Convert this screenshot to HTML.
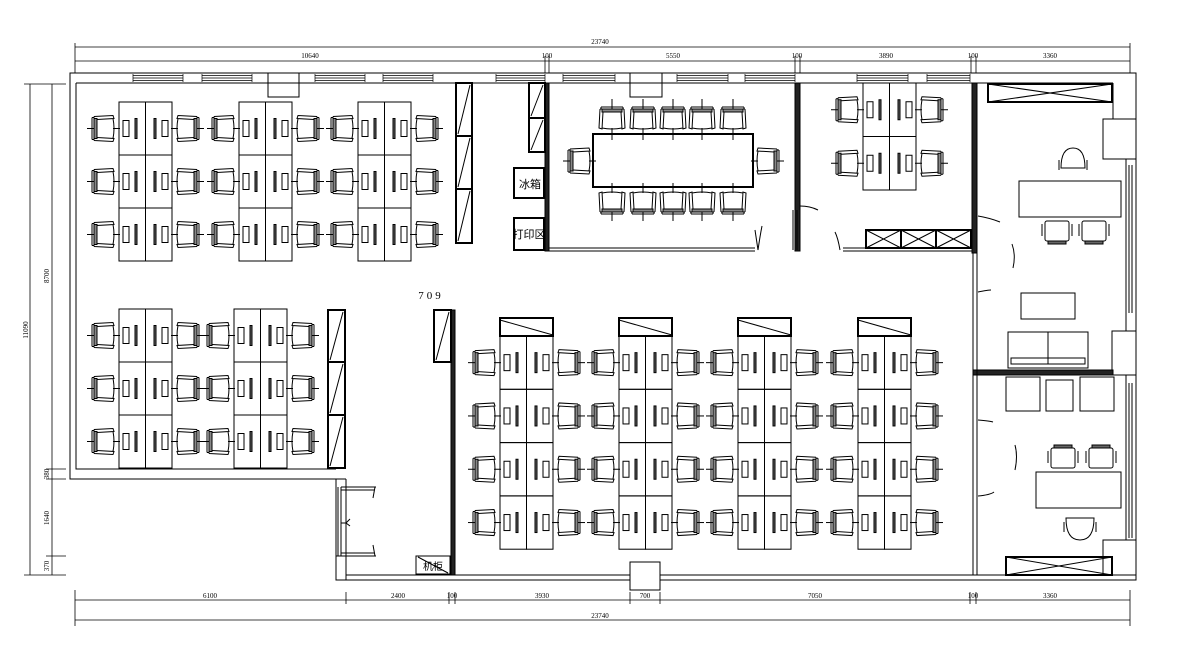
<!DOCTYPE html>
<html><head><meta charset="utf-8"><style>
html,body{margin:0;padding:0;background:#fff;width:1189px;height:653px;overflow:hidden}
svg{display:block}
text{font-family:"Liberation Serif","Noto Sans CJK SC",serif;fill:#000}
</style></head><body>
<svg id="s" width="1189" height="653" viewBox="0 0 1189 653" xmlns="http://www.w3.org/2000/svg" fill="none" stroke="#000" stroke-width="1">
<!-- dimensions top -->
<g stroke-width="0.8">
<line x1="75" y1="47" x2="1130" y2="47"/>
<line x1="75" y1="61" x2="1130" y2="61"/>
<line x1="75" y1="43" x2="75" y2="73"/><line x1="1130" y1="43" x2="1130" y2="73"/>
<line x1="545" y1="56" x2="545" y2="73"/><line x1="549" y1="56" x2="549" y2="73"/>
<line x1="795" y1="56" x2="795" y2="73"/><line x1="800" y1="56" x2="800" y2="73"/>
<line x1="971" y1="56" x2="971" y2="73"/><line x1="976" y1="56" x2="976" y2="73"/>
<line x1="75" y1="600" x2="1130" y2="600"/>
<line x1="75" y1="620" x2="1130" y2="620"/>
<line x1="75" y1="590" x2="75" y2="626"/><line x1="1130" y1="590" x2="1130" y2="626"/>
<line x1="346" y1="592" x2="346" y2="604"/>
<line x1="449" y1="592" x2="449" y2="604"/><line x1="455" y1="592" x2="455" y2="604"/>
<line x1="630" y1="592" x2="630" y2="604"/><line x1="660" y1="592" x2="660" y2="604"/>
<line x1="970" y1="592" x2="970" y2="604"/><line x1="976" y1="592" x2="976" y2="604"/>
<line x1="30" y1="84" x2="30" y2="575"/>
<line x1="52" y1="84" x2="52" y2="575"/>
<line x1="24" y1="84" x2="66" y2="84"/><line x1="24" y1="575" x2="66" y2="575"/>
<line x1="46" y1="469" x2="66" y2="469"/><line x1="46" y1="479" x2="66" y2="479"/><line x1="46" y1="556" x2="66" y2="556"/>
</g>
<g stroke="none" font-size="7">
<text x="600" y="44" text-anchor="middle">23740</text>
<text x="310" y="58" text-anchor="middle">10640</text>
<text x="547" y="58" text-anchor="middle">100</text>
<text x="673" y="58" text-anchor="middle">5550</text>
<text x="797" y="58" text-anchor="middle">100</text>
<text x="886" y="58" text-anchor="middle">3890</text>
<text x="973" y="58" text-anchor="middle">100</text>
<text x="1050" y="58" text-anchor="middle">3360</text>
<text x="210" y="598" text-anchor="middle">6100</text>
<text x="398" y="598" text-anchor="middle">2400</text>
<text x="452" y="598" text-anchor="middle">100</text>
<text x="542" y="598" text-anchor="middle">3930</text>
<text x="645" y="598" text-anchor="middle">700</text>
<text x="815" y="598" text-anchor="middle">7050</text>
<text x="973" y="598" text-anchor="middle">100</text>
<text x="1050" y="598" text-anchor="middle">3360</text>
<text x="600" y="618" text-anchor="middle">23740</text>
<text transform="translate(28,330) rotate(-90)" text-anchor="middle">11090</text>
<text transform="translate(49,276) rotate(-90)" text-anchor="middle">8700</text>
<text transform="translate(49,474) rotate(-90)" text-anchor="middle">380</text>
<text transform="translate(49,518) rotate(-90)" text-anchor="middle">1640</text>
<text transform="translate(49,566) rotate(-90)" text-anchor="middle">370</text>
</g>
<path d="M70 73 H1136 V580 H336 V479 H70 Z"/>
<path d="M76 83 H1113 M76 83 V469 H336 M346 479 V575 H1113"/>
<line x1="336" y1="479" x2="346" y2="479"/>
<rect x="268" y="73" width="31" height="24"/>
<rect x="630" y="73" width="32" height="24"/>
<rect x="630" y="562" width="30" height="28" fill="#fff"/>
<g id="win" stroke-width="0.7"></g>
<line x1="1113" y1="83" x2="1113" y2="119"/>
<rect x="1103" y="119" width="33" height="40"/>
<rect x="1126" y="159" width="10" height="172"/><line x1="1129" y1="165" x2="1129" y2="313"/><line x1="1132" y1="165" x2="1132" y2="313"/>
<rect x="1112" y="331" width="24" height="44"/>
<rect x="1126" y="375" width="10" height="165"/><line x1="1129" y1="383" x2="1129" y2="538"/><line x1="1132" y1="383" x2="1132" y2="538"/>
<rect x="1103" y="540" width="33" height="35"/>
<g fill="#222" stroke="#000">
<rect x="545" y="83" width="4" height="168"/>
<rect x="795" y="83" width="5" height="168"/>
<rect x="972" y="83" width="5" height="170"/>
<rect x="451" y="310" width="4" height="265"/>
<rect x="973" y="370" width="140" height="5"/>
</g>
<path d="M549 248 H755 M549 251 H755 M843 248 H972 M843 251 H972"/>
<line x1="755" y1="230" x2="758" y2="250" /><path d="M758 250 Q760 236 762 226"/>
<path d="M793 210 V250 M797 210 V250"/><path d="M800 206 Q810 206 818 210"/>
<path d="M840 250 Q838 238 835 232"/>
<path d="M973 253 V575 M977 253 V575"/>
<path d="M978 216 Q990 218 1000 222 M1012 244 Q1016 255 1013 268 M978 292 Q988 290 991 290 M978 420 Q990 421 993 422 M1015 445 Q1018 456 1015 470 M978 496 Q990 495 994 492"/>
<path d="M338 487 V556 M341 487 V556 M341 487 H376 M341 556 H376 M341 490 H374 M341 553 H374"/>
<path d="M375 487 L373 498 M375 556 L373 545 M341 523 H346 L350 519 M346 523 L350 526"/>
<rect x="336" y="556" width="10" height="24"/>
<g id="g"></g>
<g stroke="none" font-size="11">
<text x="530" y="188" text-anchor="middle" font-family="Liberation Sans,Noto Sans CJK SC,sans-serif">冰箱</text>
<text x="529" y="238" text-anchor="middle" font-family="Liberation Sans,Noto Sans CJK SC,sans-serif">打印区</text>
<text x="433" y="570" text-anchor="middle" font-size="10" fill="#555" font-family="Liberation Sans,Noto Sans CJK SC,sans-serif">机柜</text>
<text x="431" y="299" text-anchor="middle" font-size="11" letter-spacing="3" font-family="Liberation Sans,sans-serif">709</text>
</g>
</svg>
<script>
var g=document.getElementById('g'),out='';
function r(x,y,w,h,e){out+='<rect x="'+x+'" y="'+y+'" width="'+w+'" height="'+h+'" '+(e||'')+'/>';}
function l(a,b,c,d,e){out+='<line x1="'+a+'" y1="'+b+'" x2="'+c+'" y2="'+d+'" '+(e||'')+'/>';}
function chair(cx,cy,rot){
 out+='<g transform="translate('+cx+','+cy+') rotate('+rot+')">'+
 '<path d="M-10 -12 L9 -13 L10 -10 L-7 -9 M-10 12 L9 13 L10 10 L-7 9 M-10 -12 V12 M-12 -11 V11 M-12 -11 H-10 M-12 11 H-10 M9 -10 Q11 0 9 10"/>'+
 '<rect x="-10" y="-10" width="3" height="20" fill="#888"/>'+
 '<line x1="-17" y1="0" x2="-10" y2="0"/><line x1="9" y1="0" x2="16" y2="0"/></g>';
}
function desk(x,y,rows,h){
 for(var i=0;i<rows;i++){var yy=y+i*h;
  r(x,yy,26.5,h);r(x+26.5,yy,26.5,h);
  var c=yy+h/2;
  r(x+4,c-8,6,16);r(x+16,c-10,2,20,'fill="#666"');
  r(x+35,c-10,2,20,'fill="#666"');r(x+43,c-8,6,16);
  chair(x-15,c,0);chair(x+68,c,180);
 }
}
var ws=[[133,183],[202,252],[315,365],[383,433],[496,545],[563,615],[677,728],[745,795],[857,908],[927,970]];
var wo='';ws.forEach(function(w){wo+='<path d="M'+w[0]+' 74 V82 M'+w[1]+' 74 V82 M'+w[0]+' 75.5 H'+w[1]+' M'+w[0]+' 78 H'+w[1]+' M'+w[0]+' 80.5 H'+w[1]+'"/>';});
document.getElementById('win').innerHTML=wo;
[119,239,358].forEach(function(x){desk(x,102,3,53);});
[119,234].forEach(function(x){desk(x,309,3,53);});
[500,619,738,858].forEach(function(x){r(x,318,53,18,'stroke-width="2"');l(x,320,x+53,335);desk(x,336,4,53.3);});
desk(863,83,2,53.5);
r(593,134,160,53,'stroke-width="2"');
[612,643,673,702,733].forEach(function(x){chair(x,119,90);chair(x,202,270);l(x,99,x,107);l(x,130,x,140);l(x,183,x,192);l(x,213,x,221);});
chair(580,161,0);chair(767,161,180);
function stor(x,y,w,h){r(x,y,w,h,'stroke-width="2"');l(x+2,y+h-2,x+w-2,y+2);}
stor(456,83,16,53);stor(456,136,16,53);stor(456,189,16,54);
stor(328,310,17,52);stor(328,362,17,53);stor(328,415,17,53);
stor(529,83,16,35);stor(529,118,16,34);
stor(434,310,17,52);
r(416,556,34,18);l(418,557,448,573);
r(514,168,30,30,'stroke-width="2"');r(514,218,30,32,'stroke-width="2"');
function xb(x,y,w,h){r(x,y,w,h,'stroke-width="2"');out+='<path d="M'+x+' '+y+' L'+(x+w)+' '+(y+h)+' M'+x+' '+(y+h)+' L'+(x+w)+' '+y+'"/>';}
xb(866,230,35,18);xb(901,230,35,18);xb(936,230,35,18);
xb(988,84,124,18);xb(1006,557,106,18);
r(1019,181,102,36);
out+='<path d="M1061 168 Q1061 148 1073 148 Q1085 148 1085 168 Z"/><path d="M1059 160 V170 M1087 160 V170"/>';
function sc(x,y,flip){r(x,y,24,20,'rx="2"');r(x+3,flip?y-3:y+20,18,3,'fill="#666"');l(x-3,y+3,x-3,y+15);l(x+27,y+3,x+27,y+15);}
sc(1045,221,0);sc(1082,221,0);
r(1021,293,54,26);
r(1008,332,80,36);l(1048,332,1048,364);r(1011,358,74,6);
r(1006,377,34,34);r(1046,380,27,31);r(1080,377,34,34);
sc(1051,448,1);sc(1089,448,1);
r(1036,472,85,36);
out+='<path d="M1066 518 Q1066 540 1080 540 Q1094 540 1094 518 Z"/><path d="M1064 522 V532 M1096 522 V532"/>';
g.innerHTML=out;
</script>
</body></html>
